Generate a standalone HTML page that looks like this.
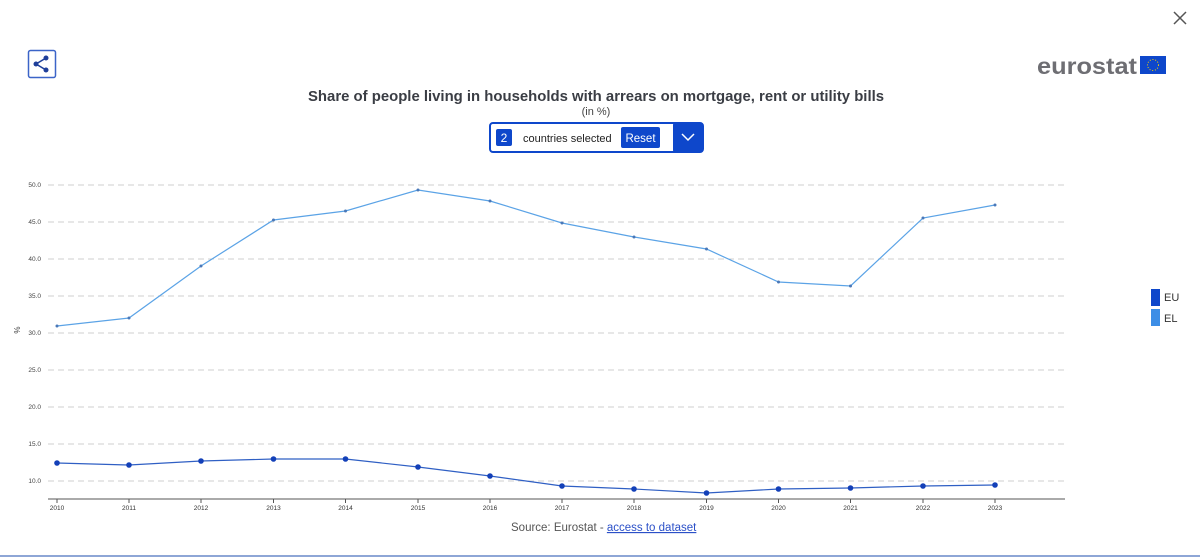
<!DOCTYPE html>
<html><head><meta charset="utf-8"><style>
html,body{margin:0;padding:0;width:1200px;height:557px;overflow:hidden;background:#fff;font-family:"Liberation Sans",sans-serif}
</style></head><body>
<svg width="1200" height="557" xmlns="http://www.w3.org/2000/svg" font-family="Liberation Sans, sans-serif">
<path d="M1174 12 L1186 24 M1186 12 L1174 24" stroke="#555" stroke-width="1.5"/>
<rect x="28.5" y="50.5" width="27" height="27" rx="2" fill="#fff" stroke="#3b64c8" stroke-width="1.5"/>
<circle cx="36" cy="64" r="2.5" fill="#1f3f9a"/><circle cx="46" cy="58" r="2.5" fill="#1f3f9a"/><circle cx="46" cy="70" r="2.5" fill="#1f3f9a"/>
<path d="M36 64 L46 58 M36 64 L46 70" stroke="#1f3f9a" stroke-width="1.6"/>
<text x="1037" y="74" font-size="23" font-weight="bold" fill="#6e6e73" textLength="100" lengthAdjust="spacingAndGlyphs">eurostat</text>
<rect x="1140" y="56" width="26" height="18" fill="#0e47cb"/>
<circle cx="1153" cy="65" r="5.5" fill="none" stroke="#f5d400" stroke-width="1" stroke-dasharray="1 1.8"/>
<text x="596" y="101" font-size="14.5" font-weight="bold" fill="#3a3d44" text-anchor="middle" textLength="576" lengthAdjust="spacingAndGlyphs">Share of people living in households with arrears on mortgage, rent or utility bills</text>
<text x="596" y="115" font-size="11" fill="#444" text-anchor="middle">(in %)</text>
<rect x="490" y="123" width="213" height="29" rx="3" fill="#fff" stroke="#0e47cb" stroke-width="2"/>
<rect x="496" y="129" width="16" height="17" rx="2" fill="#0e47cb"/>
<text x="504" y="142" font-size="12" fill="#fff" text-anchor="middle">2</text>
<text x="523" y="142" font-size="11" fill="#222">countries selected</text>
<rect x="621" y="127" width="39" height="21" rx="2" fill="#0e47cb"/>
<text x="640.5" y="142" font-size="11.5" fill="#fff" text-anchor="middle">Reset</text>
<rect x="673" y="123" width="30" height="29" rx="2" fill="#0e47cb"/>
<path d="M682 134 L688 140 L694 134" stroke="#fff" stroke-width="1.5" fill="none"/>
<g stroke="#cfcfcf" stroke-width="1" stroke-dasharray="6 4">
<line x1="48" x2="1065" y1="185" y2="185"/><line x1="48" x2="1065" y1="222" y2="222"/>
<line x1="48" x2="1065" y1="259" y2="259"/><line x1="48" x2="1065" y1="296" y2="296"/>
<line x1="48" x2="1065" y1="333" y2="333"/><line x1="48" x2="1065" y1="370" y2="370"/>
<line x1="48" x2="1065" y1="407" y2="407"/><line x1="48" x2="1065" y1="444" y2="444"/>
<line x1="48" x2="1065" y1="481" y2="481"/>
</g>
<g font-size="6.5" fill="#444" text-anchor="end">
<text x="41" y="187">50.0</text><text x="41" y="224">45.0</text><text x="41" y="261">40.0</text>
<text x="41" y="298">35.0</text><text x="41" y="335">30.0</text><text x="41" y="372">25.0</text>
<text x="41" y="409">20.0</text><text x="41" y="446">15.0</text><text x="41" y="483">10.0</text>
</g>
<text x="20" y="330" font-size="8" fill="#444" transform="rotate(-90 20 330)" text-anchor="middle">%</text>
<line x1="48" x2="1065" y1="499" y2="499" stroke="#555" stroke-width="1"/>
<g font-size="6.5" fill="#333" text-anchor="middle" stroke="#555">
<g stroke-width="1">
<line x1="57" x2="57" y1="499" y2="503"/><line x1="129" x2="129" y1="499" y2="503"/><line x1="201" x2="201" y1="499" y2="503"/><line x1="273.5" x2="273.5" y1="499" y2="503"/><line x1="345.5" x2="345.5" y1="499" y2="503"/><line x1="418" x2="418" y1="499" y2="503"/><line x1="490" x2="490" y1="499" y2="503"/><line x1="562" x2="562" y1="499" y2="503"/><line x1="634" x2="634" y1="499" y2="503"/><line x1="706.5" x2="706.5" y1="499" y2="503"/><line x1="778.5" x2="778.5" y1="499" y2="503"/><line x1="850.5" x2="850.5" y1="499" y2="503"/><line x1="923" x2="923" y1="499" y2="503"/><line x1="995" x2="995" y1="499" y2="503"/>
</g>
<g stroke="none">
<text x="57" y="510">2010</text><text x="129" y="510">2011</text><text x="201" y="510">2012</text><text x="273.5" y="510">2013</text><text x="345.5" y="510">2014</text><text x="418" y="510">2015</text><text x="490" y="510">2016</text><text x="562" y="510">2017</text><text x="634" y="510">2018</text><text x="706.5" y="510">2019</text><text x="778.5" y="510">2020</text><text x="850.5" y="510">2021</text><text x="923" y="510">2022</text><text x="995" y="510">2023</text>
</g></g>
<polyline fill="none" stroke="#5ba3e6" stroke-width="1.2" points="57,326 129,318 201,266 273.5,220 345.5,211 418,190 490,201 562,223 634,237 706.5,249 778.5,282 850.5,286 923,218 995,205"/>
<g fill="#4a78b8">
<circle cx="57" cy="326" r="1.5"/><circle cx="129" cy="318" r="1.5"/><circle cx="201" cy="266" r="1.5"/><circle cx="273.5" cy="220" r="1.5"/><circle cx="345.5" cy="211" r="1.5"/><circle cx="418" cy="190" r="1.5"/><circle cx="490" cy="201" r="1.5"/><circle cx="562" cy="223" r="1.5"/><circle cx="634" cy="237" r="1.5"/><circle cx="706.5" cy="249" r="1.5"/><circle cx="778.5" cy="282" r="1.5"/><circle cx="850.5" cy="286" r="1.5"/><circle cx="923" cy="218" r="1.5"/><circle cx="995" cy="205" r="1.5"/>
</g>
<polyline fill="none" stroke="#2f5fc4" stroke-width="1.2" points="57,463 129,465 201,461 273.5,459 345.5,459 418,467 490,476 562,486 634,489 706.5,493 778.5,489 850.5,488 923,486 995,485"/>
<g fill="#1340b8">
<circle cx="57" cy="463" r="2.8"/><circle cx="129" cy="465" r="2.8"/><circle cx="201" cy="461" r="2.8"/><circle cx="273.5" cy="459" r="2.8"/><circle cx="345.5" cy="459" r="2.8"/><circle cx="418" cy="467" r="2.8"/><circle cx="490" cy="476" r="2.8"/><circle cx="562" cy="486" r="2.8"/><circle cx="634" cy="489" r="2.8"/><circle cx="706.5" cy="493" r="2.8"/><circle cx="778.5" cy="489" r="2.8"/><circle cx="850.5" cy="488" r="2.8"/><circle cx="923" cy="486" r="2.8"/><circle cx="995" cy="485" r="2.8"/>
</g>
<rect x="1151" y="289" width="9" height="17" fill="#0e47cb"/>
<text x="1164" y="301" font-size="11" fill="#333">EU</text>
<rect x="1151" y="309" width="9" height="17" fill="#3d8ee6"/>
<text x="1164" y="322" font-size="11" fill="#333">EL</text>
<text x="511" y="531" font-size="11.5" fill="#555">Source: Eurostat - <tspan fill="#2b50c8" text-decoration="underline">access to dataset</tspan></text>
<line x1="0" x2="1200" y1="556" y2="556" stroke="#8ea6d6" stroke-width="2"/>
</svg>
</body></html>
